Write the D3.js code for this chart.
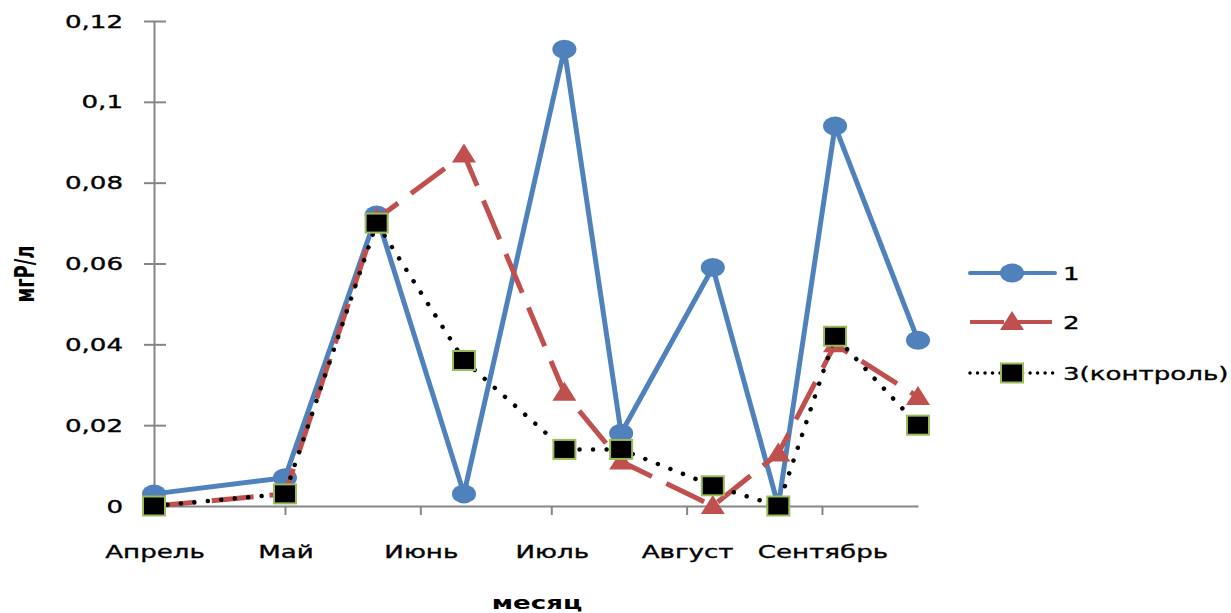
<!DOCTYPE html>
<html>
<head>
<meta charset="utf-8">
<script src="https://cdn.jsdelivr.net/npm/d3@7"></script>
<style>
  html, body { margin: 0; padding: 0; background: #fff; }
  svg { display: block; }
  text { font-family: "DejaVu Sans", Verdana, sans-serif; fill: #000; }
  text.norm { stroke: #000; stroke-width: 0.35px; }
</style>
</head>
<body>
<svg id="chart" width="1231" height="613"></svg>
<script>
// ---- data ----
const dates = ["2013-04-01","2013-05-01","2013-05-22","2013-06-11","2013-07-04",
               "2013-07-17","2013-08-07","2013-08-22","2013-09-04","2013-09-23"];
const series1 = [0.003, 0.007, 0.072, 0.003, 0.113, 0.018, 0.059, 0.000, 0.094, 0.041];
const series2 = [0.000, 0.003, 0.071, 0.087, 0.028, 0.011, 0.000, 0.013, 0.040, 0.027];
const series3 = [0.000, 0.003, 0.070, 0.036, 0.014, 0.014, 0.005, 0.000, 0.042, 0.020];
const seriesNames = ["1", "2", "3(контроль)"];
const monthTicks = ["2013-04-01","2013-05-01","2013-06-01","2013-07-01","2013-08-01","2013-09-01"];
const monthLabels = ["Апрель","Май","Июнь","Июль","Август","Сентябрь"];
const yTicks = [0, 0.02, 0.04, 0.06, 0.08, 0.1, 0.12];
const xDomain = ["2013-04-01", "2013-09-23"];
const yTitle = "мгР/л";
const xTitle = "месяц";

// ---- setup ----
const parse = d3.timeParse("%Y-%m-%d");
const svg = d3.select("#chart");
const SX = 1.45; // horizontal text stretch of the reference

const x = d3.scaleTime().domain(xDomain.map(parse)).range([154, 918]);
const y = d3.scaleLinear().domain([0, 0.12]).range([506, 21]);
const axisColor = "#868686";
const fmt = v => String(+v.toFixed(2)).replace(".", ",");

function stretchedText(g, tx, ty, str, anchor, opts = {}) {
  const t = g.append("text")
    .attr("class", opts.weight ? null : "norm")
    .attr("transform", `translate(${tx},${ty}) scale(${SX},1)`)
    .attr("text-anchor", anchor)
    .attr("font-size", opts.size || 18)
    .attr("font-weight", opts.weight || "normal")
    .text(str);
  return t;
}

// ---- y axis ----
const yAxis = svg.append("g").attr("transform", "translate(154,0)")
  .call(d3.axisLeft(y).tickValues(yTicks).tickSize(0).tickFormat(""));
yAxis.select(".domain").attr("stroke", axisColor).attr("stroke-width", 2);
yAxis.selectAll(".tick line").remove();
yAxis.selectAll(".tick").append("line")
  .attr("x1", -10).attr("x2", 12).attr("stroke", axisColor).attr("stroke-width", 2);
const yl = svg.append("g");
yTicks.forEach(v => stretchedText(yl, 123, y(v) + 6.5, fmt(v), "end"));

// ---- x axis ----
const xAxis = svg.append("g").attr("transform", "translate(0,506)")
  .call(d3.axisBottom(x).tickValues(monthTicks.map(parse)).tickSize(9).tickSizeOuter(0).tickFormat(""));
xAxis.select(".domain").attr("stroke", axisColor).attr("stroke-width", 2);
xAxis.selectAll(".tick line").attr("stroke", axisColor).attr("stroke-width", 2);
const xl = svg.append("g");
monthTicks.forEach((d, i) => stretchedText(xl, x(parse(d)) + 1, 558, monthLabels[i], "middle"));

// ---- titles ----
stretchedText(svg, 537, 609, xTitle, "middle", {weight: "bold"});
svg.append("text")
  .attr("transform", `translate(34,274) rotate(-90) scale(1,${SX})`)
  .attr("text-anchor", "middle")
  .attr("font-size", 18).attr("font-weight", "bold")
  .text(yTitle);

// ---- series ----
const styles = [
  {color: "#4F81BD", dash: null, width: 5, cap: "round", marker: "circle"},
  {color: "#C0504D", dash: "42 16", width: 5, cap: "butt", marker: "triangle"},
  {color: "#000000", dash: "0.01 13.5", width: 4.5, cap: "round", marker: "square"}
];
const allSeries = [series1, series2, series3];

function drawMarker(g, type, cx, cy) {
  if (type === "circle") {
    g.append("ellipse").attr("cx", cx).attr("cy", cy).attr("rx", 12).attr("ry", 9.5)
      .attr("fill", "#4F81BD");
  } else if (type === "triangle") {
    g.append("path")
      .attr("d", `M${cx},${cy - 11} L${cx + 12},${cy + 8} L${cx - 12},${cy + 8} Z`)
      .attr("fill", "#C0504D");
  } else {
    g.append("rect").attr("x", cx - 11).attr("y", cy - 9.5).attr("width", 22).attr("height", 19)
      .attr("fill", "#000").attr("stroke", "#9BBB59").attr("stroke-width", 2);
  }
}

const line = d3.line().x(d => x(d.date)).y(d => y(d.v));
allSeries.forEach((vals, si) => {
  const st = styles[si];
  const pts = vals.map((v, i) => ({date: parse(dates[i]), v}));
  const g = svg.append("g");
  g.append("path").datum(pts).attr("d", line)
    .attr("fill", "none").attr("stroke", st.color).attr("stroke-width", st.width)
    .attr("stroke-linecap", st.cap).attr("stroke-linejoin", "round")
    .attr("stroke-dasharray", st.dash);
  pts.forEach(p => drawMarker(g, st.marker, x(p.date), y(p.v)));
});

// ---- legend ----
const legendY = [273, 322, 373];
const legendDash = [null, "34 14", "0.01 7.5"];
const legendWidth = [4, 4, 3.5];
seriesNames.forEach((name, i) => {
  const st = styles[i];
  const g = svg.append("g");
  g.append("line").attr("x1", 970).attr("x2", 1055).attr("y1", legendY[i]).attr("y2", legendY[i])
    .attr("stroke", st.color).attr("stroke-width", legendWidth[i])
    .attr("stroke-linecap", st.cap).attr("stroke-dasharray", legendDash[i]);
  drawMarker(g, st.marker, 1012, legendY[i]);
  stretchedText(g, 1063, legendY[i] + 7, name, "start");
});
</script>
</body>
</html>
